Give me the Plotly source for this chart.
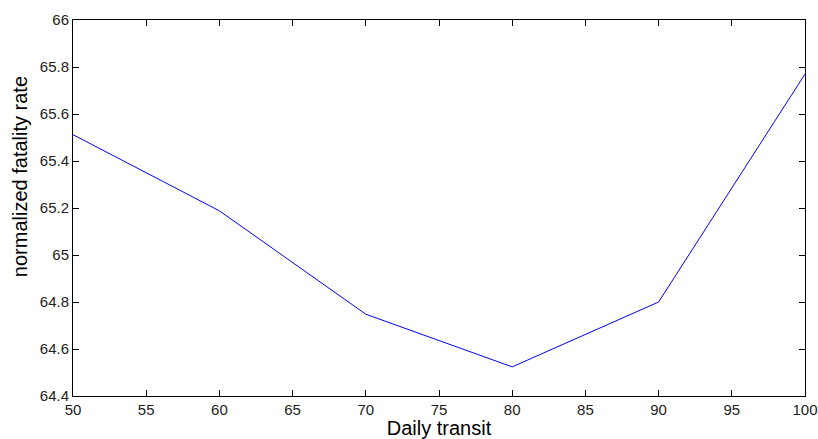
import plotly.graph_objects as go

# Daily transit levels and the resulting normalized fatality rate
daily_transit = [50, 60, 70, 80, 90, 100]
fatality_rate = [65.512, 65.188, 64.748, 64.524, 64.800, 65.770]

x_ticks = [50, 55, 60, 65, 70, 75, 80, 85, 90, 95, 100]
y_ticks = [64.4, 64.6, 64.8, 65.0, 65.2, 65.4, 65.6, 65.8, 66.0]
y_tick_text = ["64.4", "64.6", "64.8", "65", "65.2", "65.4", "65.6", "65.8", "66"]

FONT = "Liberation Sans, Arial, sans-serif"

fig = go.Figure(
    go.Scatter(
        x=daily_transit,
        y=fatality_rate,
        mode="lines",
        line=dict(color="#0000ff", width=1),
        showlegend=False,
    )
)

axis_common = dict(
    showgrid=False,
    zeroline=False,
    showline=True,
    linecolor="black",
    linewidth=1,
    mirror="ticks",
    ticks="inside",
    ticklen=6,
    tickcolor="black",
    automargin=False,
    tickfont=dict(family=FONT, size=15, color="#222"),
)

fig.update_xaxes(
    range=[50, 100],
    tickvals=x_ticks,
    ticktext=[str(v) for v in x_ticks],
    title=dict(text="Daily transit", standoff=4,
               font=dict(family=FONT, size=20, color="black")),
    **axis_common,
)
fig.update_yaxes(
    range=[64.4, 66.0],
    tickvals=y_ticks,
    ticktext=y_tick_text,
    **axis_common,
)

# Y-axis label, placed a little above the vertical middle of the axis
fig.add_annotation(
    text="normalized fatality rate",
    xref="paper", yref="paper",
    x=0, y=0.582,
    xanchor="center", yanchor="middle",
    xshift=-53,
    textangle=-90,
    showarrow=False,
    font=dict(family=FONT, size=20, color="black"),
)

fig.update_layout(
    width=818,
    height=439,
    margin=dict(l=73, r=13, t=20, b=43),
    plot_bgcolor="white",
    paper_bgcolor="white",
)

fig.write_html("out.html")
